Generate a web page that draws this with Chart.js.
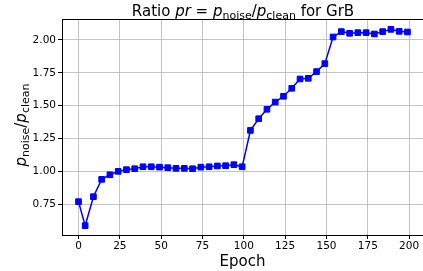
<!DOCTYPE html>
<html>
<head>
<meta charset="utf-8">
<script src="https://cdn.jsdelivr.net/npm/chart.js@4.4.1/dist/chart.umd.min.js"></script>
<style>
  html, body { margin: 0; padding: 0; background: #ffffff; overflow: hidden; }
  #wrap { width: 423px; height: 271px; position: relative; }
</style>
</head>
<body>
<div id="wrap"><canvas id="c" width="423" height="271"></canvas></div>
<script>
const epochs = [0, 4, 9, 14, 19, 24, 29, 34, 39, 44, 49, 54, 59, 64, 69, 74, 79, 84, 89, 94,
                99, 104, 109, 114, 119, 124, 129, 134, 139, 144, 149, 154, 159, 164, 169, 174, 179, 184, 189, 194, 199];
const ratio = [0.768, 0.585, 0.806, 0.938, 0.973, 0.999, 1.012, 1.019, 1.034, 1.034,
               1.031, 1.027, 1.022, 1.022, 1.019, 1.031, 1.034, 1.040, 1.042, 1.050,
               1.034, 1.311, 1.400, 1.472, 1.527, 1.571, 1.632, 1.703, 1.708, 1.759,
               1.820, 2.023, 2.064, 2.051, 2.056, 2.056, 2.046, 2.064, 2.081, 2.066, 2.061];
const xTicks = [0, 25, 50, 75, 100, 125, 150, 175, 200];
const yTicks = [0.75, 1.00, 1.25, 1.50, 1.75, 2.00];
const titleParts = [["Ratio ", "n"], ["pr", "i"], [" = ", "n"], ["p", "i"], ["noise", "s"], ["/", "n"], ["p", "i"], ["clean", "s"], [" for GrB", "n"]];
const yLabelParts = [["p", "i"], ["noise", "s"], ["/", "n"], ["p", "i"], ["clean", "s"]];
const xLabel = "Epoch";

const FONT = "'DejaVu Sans', sans-serif";

function drawMath(ctx, parts, size) {
  const fonts = {
    n: size + "px " + FONT,
    i: "italic " + size + "px " + FONT,
    s: Math.round(size * 0.7) + "px " + FONT
  };
  let total = 0;
  const widths = parts.map(p => { ctx.font = fonts[p[1]]; const w = ctx.measureText(p[0]).width; total += w; return w; });
  let x = -total / 2;
  parts.forEach((p, k) => {
    ctx.font = fonts[p[1]];
    ctx.fillText(p[0], x, p[1] === "s" ? size * 0.2 : 0);
    x += widths[k];
  });
}

const decor = {
  id: "decor",
  afterDraw(chart) {
    const ctx = chart.ctx;
    const a = chart.chartArea;
    ctx.save();
    ctx.strokeStyle = "#000000";
    ctx.lineWidth = 1;
    ctx.beginPath();
    ctx.moveTo(a.left, a.top + 0.5);
    ctx.lineTo(a.right, a.top + 0.5);
    ctx.stroke();
    ctx.fillStyle = "#000000";
    ctx.textBaseline = "alphabetic";
    ctx.textAlign = "left";
    ctx.save();
    ctx.translate((a.left + 424) / 2, 16);
    drawMath(ctx, titleParts, 15);
    ctx.restore();
    ctx.save();
    ctx.translate(26, (a.top + a.bottom) / 2 - 2);
    ctx.rotate(-Math.PI / 2);
    drawMath(ctx, yLabelParts, 15);
    ctx.restore();
    ctx.restore();
  }
};

new Chart(document.getElementById("c"), {
  type: "line",
  data: {
    datasets: [{
      data: epochs.map((e, k) => ({ x: e, y: ratio[k] })),
      borderColor: "#0000ff",
      backgroundColor: "#0000ff",
      borderWidth: 1.5,
      pointStyle: "rect",
      pointRadius: 4,
      pointBorderWidth: 1,
      pointBorderColor: "#0000ff",
      pointBackgroundColor: "#0000ff",
      tension: 0
    }]
  },
  options: {
    responsive: false,
    animation: false,
    events: [],
    layout: { autoPadding: false, padding: { top: 19, right: 0, left: 0, bottom: 0 } },
    plugins: { legend: { display: false }, tooltip: { enabled: false }, title: { display: false } },
    scales: {
      x: {
        type: "linear",
        min: -10,
        max: 208.4,
        afterBuildTicks: s => { s.ticks = xTicks.map(v => ({ value: v })); },
        afterFit: s => { s.height = 36; s.paddingLeft = 0; s.paddingRight = 0; },
        grid: { color: "rgba(176,176,176,0.75)", lineWidth: 1, tickColor: "#000000", tickLength: 4 },
        border: { display: true, color: "#000000", width: 1 },
        ticks: { color: "#000000", font: { family: FONT, size: 10.5 }, padding: 1, maxRotation: 0, callback: v => String(v) },
        title: { display: true, text: xLabel, color: "#000000", font: { family: FONT, size: 15 }, padding: { top: 0, bottom: 0 } }
      },
      y: {
        type: "linear",
        min: 0.514,
        max: 2.16,
        afterBuildTicks: s => { s.ticks = yTicks.map(v => ({ value: v })); },
        afterFit: s => { s.width = 62; s.paddingTop = 0; s.paddingBottom = 0; },
        grid: { color: "rgba(176,176,176,0.75)", lineWidth: 1, tickColor: "#000000", tickLength: 4 },
        border: { display: true, color: "#000000", width: 1 },
        ticks: { color: "#000000", font: { family: FONT, size: 10.5 }, padding: 2, callback: v => v.toFixed(2) }
      }
    }
  },
  plugins: [decor]
});
</script>
</body>
</html>
